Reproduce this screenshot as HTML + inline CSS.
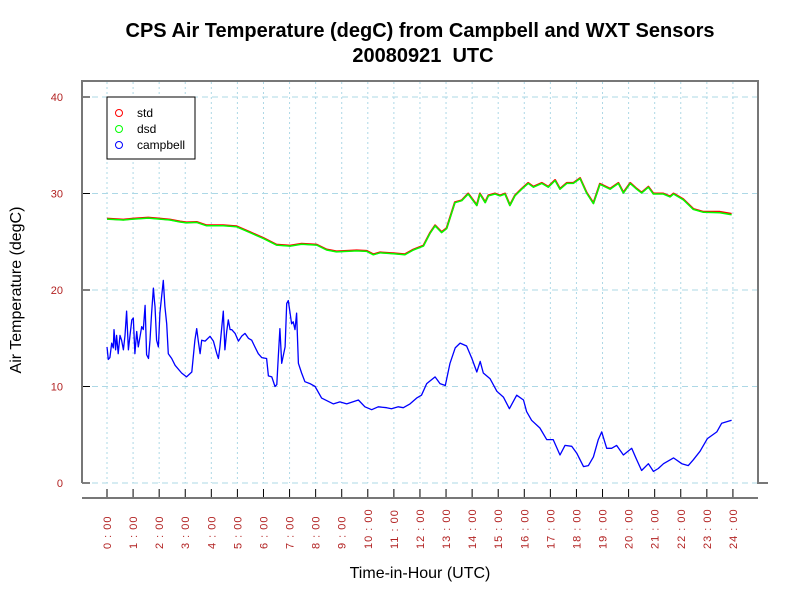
<!DOCTYPE html>
<html><head><meta charset="utf-8"><style>
html,body{margin:0;padding:0;background:#fff;}
svg{display:block;font-family:"Liberation Sans",Arial,sans-serif;}
</style></head><body>
<svg id="chart" width="800" height="600" viewBox="0 0 800 600" xmlns="http://www.w3.org/2000/svg">
<rect width="800" height="600" fill="#fff"/>
<text x="420" y="37" text-anchor="middle" font-size="20" font-weight="bold">CPS Air Temperature (degC) from Campbell and WXT Sensors</text>
<text x="423" y="62" text-anchor="middle" font-size="20" font-weight="bold" xml:space="preserve" style="white-space:pre">20080921  UTC</text>
<g id="grid"></g>
<g id="series"></g>
<g id="axes"></g>
<text x="420" y="578" text-anchor="middle" font-size="16">Time-in-Hour (UTC)</text>
<text transform="translate(21,290) rotate(-90)" text-anchor="middle" font-size="16">Air Temperature (degC)</text>
<g>
<rect x="107" y="97" width="88" height="62" fill="#fff" stroke="#000" stroke-width="1"/>
<circle cx="119" cy="113" r="3.5" fill="none" stroke="#f00"/>
<text x="137" y="117" font-size="12">std</text>
<circle cx="119" cy="129" r="3.5" fill="none" stroke="#0f0"/>
<text x="137" y="133" font-size="12">dsd</text>
<circle cx="119" cy="145" r="3.5" fill="none" stroke="#00f"/>
<text x="137" y="149" font-size="12">campbell</text>
</g>
</svg>
<script>
const xTickLabels = ["0:00","1:00","2:00","3:00","4:00","5:00","6:00","7:00","8:00","9:00","10:00","11:00","12:00","13:00","14:00","15:00","16:00","17:00","18:00","19:00","20:00","21:00","22:00","23:00","24:00"];
const yTicks = [0,10,20,30,40];
const stdHours = [0,0.63,1.01,1.58,2.03,2.42,2.8,3.05,3.44,3.82,4.46,4.97,5.48,5.99,6.5,7.02,7.46,8.04,8.42,8.8,9.57,9.96,10.21,10.47,10.98,11.42,11.75,12.13,12.38,12.58,12.83,13.02,13.34,13.6,13.85,14.18,14.3,14.5,14.62,14.88,15.07,15.26,15.45,15.64,15.9,16.15,16.35,16.67,16.92,17.18,17.37,17.63,17.88,18.14,18.39,18.65,18.9,19.29,19.61,19.8,20.06,20.31,20.5,20.76,20.95,21.33,21.59,21.72,22.1,22.48,22.87,23.5,23.95];
const stdTemps = [27.4,27.3,27.4,27.5,27.4,27.3,27.1,27.0,27.05,26.7,26.7,26.6,26.0,25.4,24.7,24.6,24.8,24.7,24.2,24.0,24.1,24.05,23.7,23.9,23.8,23.7,24.2,24.6,25.9,26.7,26.0,26.4,29.1,29.3,30.0,28.8,30.0,29.1,29.8,30.0,29.8,30.0,28.8,29.8,30.5,31.1,30.7,31.1,30.7,31.4,30.5,31.1,31.1,31.6,30.1,29.0,31.0,30.5,31.1,30.1,31.1,30.5,30.1,30.7,30.0,30.0,29.7,30.0,29.4,28.4,28.1,28.1,27.9];
const dsdHours = stdHours.slice();
const dsdTemps = [27.35,27.25,27.35,27.45,27.35,27.25,27.05,26.95,27.0,26.65,26.65,26.55,25.95,25.35,24.65,24.55,24.75,24.65,24.15,23.95,24.05,24.0,23.65,23.85,23.75,23.65,24.15,24.55,25.85,26.65,25.95,26.35,29.05,29.25,29.95,28.75,29.95,29.05,29.75,29.95,29.75,29.95,28.75,29.75,30.45,31.05,30.65,31.05,30.65,31.35,30.45,31.05,31.05,31.55,30.05,28.95,30.95,30.45,31.05,30.05,31.05,30.45,30.05,30.65,29.95,29.95,29.65,29.95,29.35,28.35,28.05,28.0,27.8];
const campHours = [0,0.05,0.11,0.18,0.24,0.27,0.33,0.37,0.43,0.5,0.56,0.63,0.69,0.75,0.82,0.88,0.95,1.01,1.07,1.14,1.2,1.33,1.39,1.46,1.52,1.59,1.65,1.71,1.78,1.82,1.84,1.9,1.97,2.03,2.16,2.22,2.29,2.35,2.48,2.61,2.86,3.05,3.25,3.37,3.44,3.5,3.57,3.63,3.76,3.95,4.08,4.21,4.27,4.33,4.46,4.52,4.59,4.65,4.72,4.78,4.91,5.04,5.16,5.29,5.42,5.55,5.67,5.8,5.93,6.12,6.19,6.32,6.44,6.51,6.57,6.63,6.7,6.83,6.89,6.95,7.02,7.08,7.14,7.21,7.27,7.34,7.46,7.59,7.78,7.98,8.23,8.68,8.93,9.19,9.64,9.89,10.15,10.4,10.72,10.91,11.17,11.36,11.62,11.87,12.06,12.26,12.58,12.77,12.97,13.15,13.35,13.54,13.79,13.99,14.18,14.31,14.43,14.69,14.95,15.2,15.43,15.71,15.97,16.09,16.28,16.6,16.86,17.11,17.37,17.56,17.82,18.01,18.27,18.46,18.65,18.84,18.97,19.16,19.35,19.54,19.8,20.12,20.31,20.5,20.76,20.95,21.14,21.34,21.72,22.04,22.29,22.48,22.74,23.02,23.38,23.57,23.95];
const campTemps = [14.1,12.8,13.0,14.5,14.0,15.9,13.8,15.3,13.4,15.3,14.8,13.8,15.3,17.8,13.8,15.3,16.9,17.1,13.4,15.7,14.1,16.2,15.9,18.4,13.3,12.9,14.8,17.6,20.2,18.8,18.3,14.8,14.1,17.6,21.0,18.3,16.5,13.4,12.9,12.2,11.4,11.0,11.5,14.8,16.0,14.7,13.4,14.8,14.7,15.2,14.7,13.4,12.9,14.1,17.8,13.8,15.7,16.9,15.9,15.9,15.5,14.7,15.2,15.5,15.0,14.8,14.1,13.4,13.0,12.9,11.1,11.0,10.0,10.2,13.1,16.0,12.4,14.1,18.6,18.9,17.6,16.5,16.7,15.9,17.6,12.4,11.4,10.5,10.3,10.0,8.8,8.2,8.4,8.2,8.6,7.9,7.6,7.9,7.8,7.7,7.9,7.8,8.2,8.8,9.1,10.3,11.0,10.3,10.1,12.4,14.0,14.5,14.2,12.9,11.5,12.6,11.4,10.8,9.5,8.9,7.7,9.1,8.6,7.4,6.5,5.7,4.5,4.5,2.9,3.9,3.8,3.1,1.7,1.8,2.7,4.5,5.3,3.6,3.6,3.9,2.9,3.6,2.4,1.3,2.0,1.2,1.5,2.0,2.6,2.0,1.8,2.4,3.3,4.6,5.3,6.2,6.5];

const NS = "http://www.w3.org/2000/svg";
const X0 = 107, XSTEP = 26.08, Y0 = 483, YSTEP = 9.65;
function xScale(h){ return X0 + h * XSTEP; }
function yScale(v){ return Y0 - v * YSTEP; }
function mk(tag, attrs, parent){ const e = document.createElementNS(NS, tag); for (const k in attrs) e.setAttribute(k, attrs[k]); parent.appendChild(e); return e; }

const grid = document.getElementById('grid');
const axes = document.getElementById('axes');
const series = document.getElementById('series');

yTicks.forEach(function(v){
  const l = mk('line', {x1:82, x2:758, y1:yScale(v), y2:yScale(v), stroke:'#add8e6', 'stroke-dasharray':'6,4', 'stroke-width':1}, grid);
  
  
  const t = mk('text', {x:63, y:yScale(v)+4, 'text-anchor':'end', 'font-size':11, fill:'#b22222'}, axes);
  t.textContent = v;
  
  
  const tk = mk('line', {x1:82, x2:90, y1:yScale(v), y2:yScale(v), stroke:'#000'}, axes);
  
  
});
xTickLabels.forEach(function(lab, i){
  const x = xScale(i);
  const g = mk('line', {x1:x, x2:x, y1:82, y2:483, stroke:'#add8e6', 'stroke-dasharray':'2,3', 'stroke-width':1}, grid);
  
  
  const tk = mk('line', {x1:x, x2:x, y1:489, y2:498, stroke:'#000'}, axes);
  
  
  const t = mk('text', {transform:'translate(' + (x+4) + ',549) rotate(-90)', 'text-anchor':'start', 'font-size':11, fill:'#b22222', 'letter-spacing':'1'}, axes);
  t.textContent = lab.replace(':', ' : ');
  
  
});
const frame = mk('path', {d:'M82,483 L82,81 L758,81 L758,483 L768,483', fill:'none', stroke:'#777', 'stroke-width':2}, axes);


const xAxis = mk('line', {x1:82, x2:758, y1:498, y2:498, stroke:'#777', 'stroke-width':2}, axes);



function drawLine(hours, temps, color, name, w){
  let d = '';
  for (let i = 0; i < hours.length; i++) d += (i ? 'L' : 'M') + xScale(hours[i]).toFixed(1) + ',' + yScale(temps[i]).toFixed(1);
  const p = mk('path', {d:d, fill:'none', stroke:color, 'stroke-width':w, 'stroke-linejoin':'round'}, series);
  
  
}
drawLine(stdHours, stdTemps, '#f00', 'std-line', 2);
drawLine(dsdHours, dsdTemps, '#0f0', 'dsd-line', 1.5);
drawLine(campHours, campTemps, '#00f', 'campbell-line', 1.3);
</script>
</body></html>
